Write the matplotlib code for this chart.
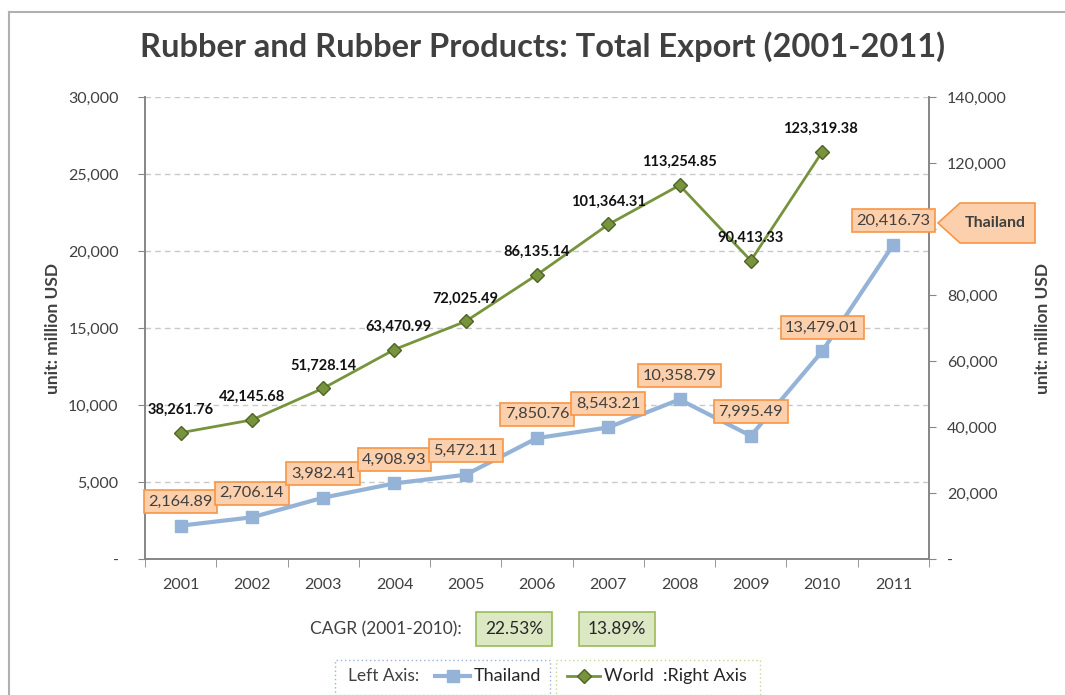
import matplotlib
matplotlib.use("Agg")
import matplotlib.pyplot as plt
from matplotlib.patches import Polygon, Rectangle
from matplotlib.lines import Line2D
from matplotlib.ticker import FuncFormatter, MultipleLocator

plt.rcParams['font.family'] = ['Lato', 'DejaVu Sans']

years = ['2001', '2002', '2003', '2004', '2005', '2006', '2007', '2008', '2009', '2010', '2011']
thailand = [2164.89, 2706.14, 3982.41, 4908.93, 5472.11, 7850.76, 8543.21, 10358.79, 7995.49, 13479.01, 20416.73]
world = [38261.76, 42145.68, 51728.14, 63470.99, 72025.49, 86135.14, 101364.31, 113254.85, 90413.33, 123319.38]
cagr_labels = ['22.53%', '13.89%']

W, H = 1065, 695
fig = plt.figure(figsize=(W / 100, H / 100), dpi=100)


def fx(px):
    return px / W


def fy(py):
    return 1 - py / H


# outer frame (top and left edges visible)
fig.add_artist(Line2D([fx(9), fx(9)], [fy(12), 0], transform=fig.transFigure, color='#b0b0b0', lw=1.5))
fig.add_artist(Line2D([fx(9), 1], [fy(12), fy(12)], transform=fig.transFigure, color='#b0b0b0', lw=1.5))

ax = fig.add_axes([fx(145), fy(559), fx(929) - fx(145), fy(97) - fy(559)])
ax2 = ax.twinx()

tick_col = '#404040'
axis_col = '#868686'

x = list(range(len(years)))
ax.set_xlim(-0.5, len(years) - 0.5)
ax.set_ylim(0, 30000)
ax2.set_ylim(0, 140000)

ax.yaxis.set_major_locator(MultipleLocator(5000))
ax2.yaxis.set_major_locator(MultipleLocator(20000))


def fmt(v, pos):
    return '-' if v == 0 else f'{v:,.0f}'


def fmt_right(v, pos):
    # the 100,000 label sits under the "Thailand" callout
    if abs(v - 100000) < 1:
        return ''
    return fmt(v, pos)


ax.yaxis.set_major_formatter(FuncFormatter(fmt))
ax2.yaxis.set_major_formatter(FuncFormatter(fmt_right))

ax.set_xticks(x)
ax.set_xticklabels(years)
ax.set_xticks([i - 0.5 for i in range(len(years) + 1)], minor=True)
ax.tick_params(axis='x', which='major', length=0, pad=14, labelsize=11.5, labelcolor=tick_col)
ax.tick_params(axis='x', which='minor', length=6, color=axis_col, direction='out')
ax.tick_params(axis='y', length=5, color=axis_col, labelsize=11.5, labelcolor=tick_col, pad=14)
ax2.tick_params(axis='y', length=5, color=axis_col, labelsize=11.5, labelcolor=tick_col, pad=8)

for a in (ax, ax2):
    a.spines['top'].set_visible(False)
    for s in ('left', 'right', 'bottom'):
        a.spines[s].set_color(axis_col)
        a.spines[s].set_linewidth(1.2)

ax.grid(axis='y', color='#c8c8c8', linestyle=(0, (4, 3)), linewidth=1)
ax.set_axisbelow(True)

ax.set_ylabel('unit: million USD', fontsize=12.5, fontweight='bold', color=tick_col, labelpad=5)
ax2.set_ylabel('unit: million USD', fontsize=12.5, fontweight='bold', color=tick_col,
               rotation=90, labelpad=20)

# Thailand series (left axis)
th_col = '#95B3D7'
ax.plot(x, thailand, color=th_col, lw=3, marker='s', markersize=9,
        markerfacecolor=th_col, markeredgecolor=th_col, zorder=3)

# World series (right axis)
w_col = '#77933C'
ax2.plot(x[:len(world)], world, color=w_col, lw=2, marker='D', markersize=7,
         markerfacecolor=w_col, markeredgecolor='#4F6228', zorder=3)
ax2.set_zorder(ax.get_zorder() + 1)
ax2.patch.set_visible(False)

for i, v in enumerate(thailand):
    ax2.annotate(f'{v:,.2f}', xy=(x[i], v / 30000 * 140000), xytext=(0, 24),
                 textcoords='offset pixels',
                 ha='center', va='center', fontsize=11.8, color='#404040', zorder=6,
                 bbox=dict(boxstyle='square,pad=0.28', facecolor='#FCD0AC', edgecolor='#F79646', lw=1.2))

w_dx = [0, 0, 0, 4, 0, 0, 0, 0, 0, -2]
for i, v in enumerate(world):
    ax2.annotate(f'{v:,.2f}', xy=(x[i], v), xytext=(w_dx[i], 23), textcoords='offset pixels',
                 ha='center', va='center', fontsize=10.5, color='#111111', fontweight='bold', zorder=5)

# "Thailand" callout pointing at the last label
callout = Polygon([(fx(938), fy(223)), (fx(960), fy(203)), (fx(1035), fy(203)),
                   (fx(1035), fy(243)), (fx(960), fy(243))], closed=True,
                  transform=fig.transFigure, facecolor='#FCD0AC', edgecolor='#F79646', lw=1.2,
                  zorder=20)
fig.add_artist(callout)
fig.text(fx(995), fy(223), 'Thailand', ha='center', va='center', fontsize=11.5,
         fontweight='bold', color='#404040', zorder=21)

# title
fig.text(fx(543), fy(47), 'Rubber and Rubber Products: Total Export (2001-2011)',
         ha='center', va='center', fontsize=23.5, fontweight='bold', color='#404040')

# CAGR row
fig.text(fx(462), fy(629), 'CAGR (2001-2010):', ha='right', va='center', fontsize=12.5, color='#404040')
for cx, lab in zip([514, 617], cagr_labels):
    fig.text(fx(cx), fy(629), lab, ha='center', va='center', fontsize=12.5, color='#262626',
             bbox=dict(boxstyle='square,pad=0.5', facecolor='#DCE8C4', edgecolor='#9BBB59', lw=1.2))

# legend boxes
fig.add_artist(Rectangle((fx(335), fy(695)), fx(550) - fx(335), fy(660) - fy(695),
                         transform=fig.transFigure, fill=False, edgecolor='#95B3D7',
                         linestyle=(0, (1, 2)), lw=1))
fig.add_artist(Rectangle((fx(556), fy(695)), fx(760) - fx(556), fy(660) - fy(695),
                         transform=fig.transFigure, fill=False, edgecolor='#C3D69B',
                         linestyle=(0, (1, 2)), lw=1))
fig.text(fx(348), fy(676), 'Left Axis:', ha='left', va='center', fontsize=12.5, color='#404040')
fig.add_artist(Line2D([fx(435), fx(470)], [fy(676), fy(676)], transform=fig.transFigure,
                      color=th_col, lw=3))
fig.add_artist(Line2D([fx(452.5)], [fy(676)], transform=fig.transFigure, color=th_col,
                      marker='s', markersize=9, linestyle='none'))
fig.text(fx(474), fy(676), 'Thailand', ha='left', va='center', fontsize=13, color='#262626')
fig.add_artist(Line2D([fx(567), fx(600)], [fy(676), fy(676)], transform=fig.transFigure,
                      color=w_col, lw=2))
fig.add_artist(Line2D([fx(583.5)], [fy(676)], transform=fig.transFigure, color=w_col,
                      marker='D', markersize=7, markeredgecolor='#4F6228', linestyle='none'))
fig.text(fx(604), fy(676), 'World  :Right Axis', ha='left', va='center', fontsize=13, color='#262626')

fig.savefig('out.png', dpi=100)
